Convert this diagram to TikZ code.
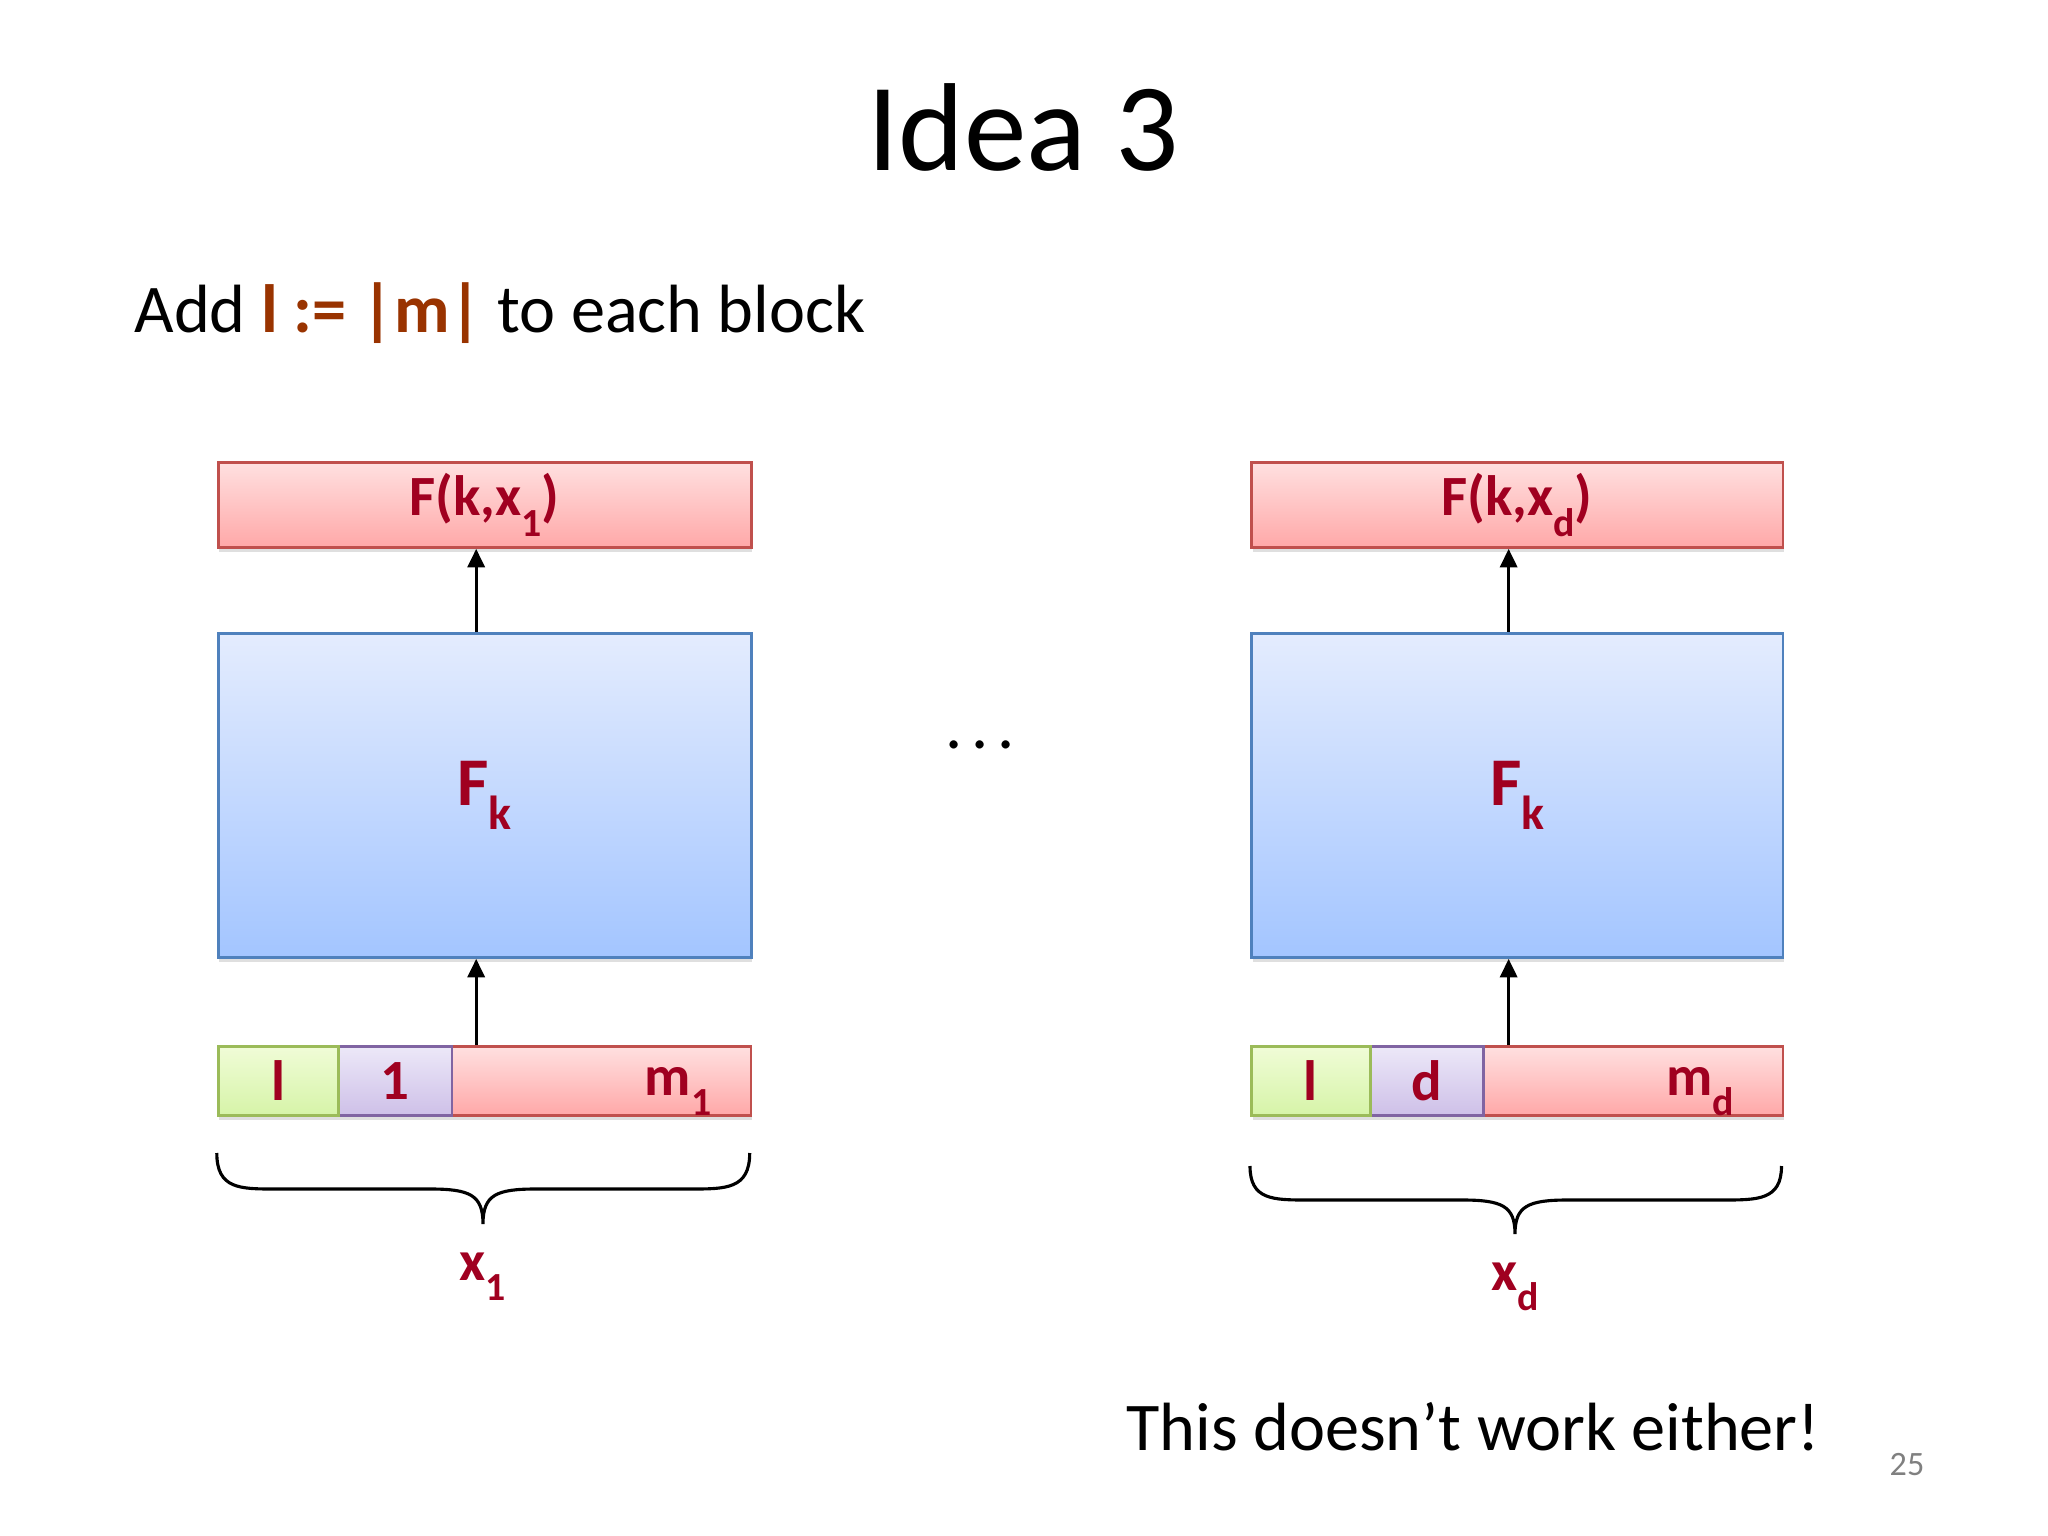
\documentclass[tikz,border=0pt]{standalone}
\usepackage{fontspec}
\setmainfont{Carlito}
\usetikzlibrary{shadows,arrows.meta}
\definecolor{lab}{RGB}{160,0,32}
\definecolor{brn}{RGB}{153,51,0}
\definecolor{redT}{RGB}{255,224,224}
\definecolor{redB}{RGB}{255,168,168}
\definecolor{redD}{RGB}{192,80,77}
\definecolor{bluT}{RGB}{228,236,254}
\definecolor{bluB}{RGB}{163,197,255}
\definecolor{bluD}{RGB}{79,129,189}
\definecolor{grnT}{RGB}{240,252,215}
\definecolor{grnB}{RGB}{214,244,168}
\definecolor{grnD}{RGB}{155,187,89}
\definecolor{purT}{RGB}{236,232,248}
\definecolor{purB}{RGB}{206,192,232}
\definecolor{purD}{RGB}{128,100,162}
\def\U{0.35156pt}
\newcommand\lsub[1]{\raisebox{-0.36em}{\scalebox{0.7}{#1}}}
\tikzset{
  box/.style={inner sep=0pt, anchor=north west, line width=1pt,
    drop shadow={shadow xshift=0.4pt, shadow yshift=-1.6pt, opacity=0.25},
    text=lab, font=\fontsize{20}{24}\selectfont\bfseries},
  redbox/.style={box, draw=redD, top color=redT, bottom color=redB},
  bluebox/.style={box, draw=bluD, top color=bluT, bottom color=bluB, font=\fontsize{24}{28}\selectfont\bfseries},
  grnbox/.style={box, draw=grnD, top color=grnT, bottom color=grnB},
  purbox/.style={box, draw=purD, top color=purT, bottom color=purB},
  lbl/.style={text=lab, font=\fontsize{20}{24}\selectfont\bfseries, inner sep=0pt},
  arr/.style={line width=1.1pt, -{Triangle[length=6.5pt,width=6pt]}},
  brace/.style={line width=1.1pt},
}
\begin{document}
\begin{tikzpicture}[x=0.35156pt,y=-0.35156pt]
\useasboundingbox[fill=white] (0,0) rectangle (2048,1536);

\node[anchor=base, font=\fontsize{44}{50}\selectfont] (title) at (1023,171) {Idea 3};
\node[anchor=base west, inner sep=0pt, font=\fontsize{24}{30}\selectfont] (sub) at (134,333)
  {Add {\color{brn}\bfseries l := |m|} to each block};

% ---- left column ----
\node[redbox, minimum width=533*\U, minimum height=85*\U] (top1) at (216.8,461) {F(k,x\lsub{1})};
\node[bluebox, minimum width=533*\U, minimum height=324*\U] (blu1) at (216.8,632) {F\lsub{k}};
\node[redbox, minimum width=299*\U, minimum height=69*\U] (m1box) at (450.6,1045) {};
\node[purbox, minimum width=113.6*\U, minimum height=69*\U] (n1box) at (337,1045) {1};
\node[grnbox, minimum width=120.2*\U, minimum height=69*\U] (l1box) at (216.8,1045) {l};
\node[lbl, anchor=base east] (m1lab) at (712,1095) {m\lsub{1}};
\draw[arr] ([xshift=-3pt]blu1.north) -- ([xshift=-3pt]top1.south);
\draw[arr] ([xshift=-3pt]blu1.south |- m1box.north) -- ([xshift=-3pt]blu1.south);
\coordinate (b1l) at (216.8,1153);
\coordinate (b1r) at (749.7,1153);
\coordinate (b1t) at (483,1224);
\draw[brace] (b1l) .. controls (216.8,1189) and (240,1189) .. (275,1189)
  -- (430,1189) .. controls (470,1189) and (483,1195) .. (b1t)
  .. controls (483,1195) and (496,1189) .. (536,1189)
  -- (691,1189) .. controls (726,1189) and (749.7,1189) .. (b1r);
\node[lbl, anchor=base] (x1) at (483,1280) {x\lsub{1}};

% ---- dots ----
\node[font=\fontsize{24}{28}\selectfont, inner sep=0pt] (dots) at (980,745) {.\hspace{3pt}.\hspace{3pt}.};

% ---- right column ----
\node[redbox, minimum width=531.5*\U, minimum height=85*\U] (topd) at (1250,461) {F(k,x\lsub{d})};
\node[bluebox, minimum width=531.5*\U, minimum height=324*\U] (blud) at (1250,632) {F\lsub{k}};
\node[redbox, minimum width=299.1*\U, minimum height=69*\U] (mdbox) at (1482.4,1045) {};
\node[purbox, minimum width=113.6*\U, minimum height=69*\U] (ndbox) at (1368.8,1045) {d};
\node[grnbox, minimum width=118.8*\U, minimum height=69*\U] (ldbox) at (1250,1045) {l};
\node[lbl, anchor=base east] (mdlab) at (1734.5,1095) {m\lsub{d}};
\draw[arr] ([xshift=-3pt]blud.north) -- ([xshift=-3pt]topd.south);
\draw[arr] ([xshift=-3pt]blud.south |- mdbox.north) -- ([xshift=-3pt]blud.south);
\coordinate (bdl) at (1250,1166);
\coordinate (bdr) at (1781.5,1166);
\coordinate (bdt) at (1515,1234);
\draw[brace] (bdl) .. controls (1250,1200) and (1273,1200) .. (1308,1200)
  -- (1462,1200) .. controls (1502,1200) and (1515,1206) .. (bdt)
  .. controls (1515,1206) and (1528,1200) .. (1568,1200)
  -- (1723,1200) .. controls (1758,1200) and (1781.5,1200) .. (bdr);
\node[lbl, anchor=base] (xd) at (1515,1290) {x\lsub{d}};

\node[anchor=base west, inner sep=0pt, font=\fontsize{24}{30}\selectfont] (concl) at (1126,1450) {This doesn’t work either!};
\node[text=black!50, font=\fontsize{12}{14}\selectfont, inner sep=0pt] (pg) at (1907,1465) {25};
\end{tikzpicture}
\end{document}
